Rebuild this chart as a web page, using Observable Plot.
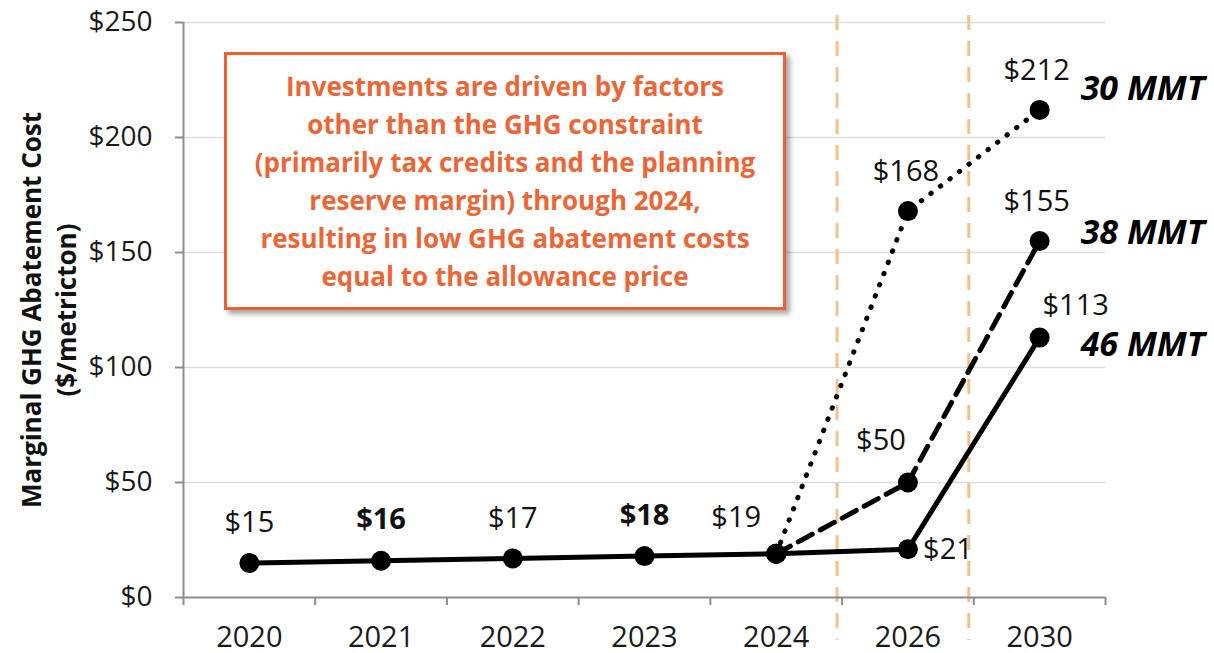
<!DOCTYPE html>
<html><head><meta charset="utf-8">
<script src="https://cdn.jsdelivr.net/npm/d3@7"></script>
<script src="https://cdn.jsdelivr.net/npm/@observablehq/plot@0.6"></script>
<style>
html,body{margin:0;padding:0;background:#fff;}
#wrap{position:relative;width:1214px;height:653px;font-family:"Open Sans",sans-serif;}
#note{position:absolute;left:224px;top:52px;width:562px;height:258px;box-sizing:border-box;border:3px solid #EA6232;background:#fff;box-shadow:4px 4px 5px rgba(0,0,0,0.35);color:#EB6636;font-weight:bold;font-size:26px;line-height:38px;text-align:center;display:flex;align-items:center;justify-content:center;}
</style></head>
<body><div id="wrap"></div>
<script>
// ---- data ----
const years = ["2020","2021","2022","2023","2024","2026","2030"];
const mmt46 = [15,16,17,18,19,21,113];
const mmt38 = [null,null,null,null,19,50,155];
const mmt30 = [null,null,null,null,19,168,212];
const seriesNames = ["30 MMT","38 MMT","46 MMT"];
const yTicks = [0,50,100,150,200,250];
const phaseBreakAfter = ["2024","2026"]; // vertical separators after these categories
const noteLines = [
  "Investments are driven by factors",
  "other than the GHG constraint",
  "(primarily tax credits and the planning",
  "reserve margin) through 2024,",
  "resulting in low GHG abatement costs",
  "equal to the allowance price"
];
const yTitle = ["Marginal GHG Abatement Cost","($/metricton)"];

// ---- build rows ----
const n = years.length;
const rows = [];
[[seriesNames[2], mmt46],[seriesNames[1], mmt38],[seriesNames[0], mmt30]].forEach(([s, vals]) => {
  vals.forEach((v, i) => { if (v != null) rows.push({series: s, i, year: years[i], value: v}); });
});
const boundaries = d3.range(n + 1).map(i => i - 0.5);
const breaks = phaseBreakAfter.map(y => years.indexOf(y) + 0.5);

// label placement (screen offsets) & styling
const place = {
  "46 MMT|2020":[0,-40], "46 MMT|2021":[0,-41], "46 MMT|2022":[0,-40], "46 MMT|2023":[0,-40],
  "46 MMT|2024":[-40,-36], "46 MMT|2026":[40,1], "46 MMT|2030":[36,-32],
  "38 MMT|2026":[-27,-42], "38 MMT|2030":[-3,-39],
  "30 MMT|2026":[-2,-39], "30 MMT|2030":[-3,-39]
};
const boldKeys = new Set(["46 MMT|2021","46 MMT|2023"]);
const seriesDy = {"30 MMT":-21, "38 MMT":-8, "46 MMT":8};

const labelMarks = rows.filter(r => place[r.series + "|" + r.year]).map(r => {
  const k = r.series + "|" + r.year;
  return Plot.text([r], {x: "i", y: "value", text: d => "$" + d.value,
    dx: place[k][0], dy: place[k][1], fontSize: 29,
    fontWeight: boldKeys.has(k) ? "bold" : "normal", fill: "#111"});
});
const lastRows = rows.filter(r => r.year === years[n - 1]);
const seriesLabelMarks = lastRows.map(r => Plot.text([r], {x: "i", y: "value", text: "series",
  dx: 41, dy: seriesDy[r.series], textAnchor: "start", fontSize: 34, fontWeight: "bold",
  fontStyle: "italic", fill: "#000"}));

const gray = "#8c8c8c";
const chart = Plot.plot({
  width: 1214, height: 653,
  marginLeft: 183, marginRight: 109, marginTop: 22, marginBottom: 56,
  style: {fontFamily: "Open Sans", overflow: "visible", background: "transparent"},
  x: {type: "linear", domain: [-0.5, n - 0.5], axis: null},
  y: {domain: [0, 250], axis: null},
  marks: [
    Plot.gridY(yTicks.slice(1), {stroke: "#dcdcdc", strokeOpacity: 1, strokeWidth: 1.5}),
    Plot.ruleX(breaks, {x: d => d, dx: -5, stroke: "#F7BD8C", strokeWidth: 3,
      strokeDasharray: "15,11", insetTop: -7, insetBottom: -43}),
    Plot.ruleY([0], {stroke: gray, strokeWidth: 2}),
    Plot.ruleX([-0.5], {y1: 0, y2: 250, stroke: gray, strokeWidth: 2}),
    Plot.axisY(yTicks, {tickSize: 8, tickPadding: 23, tickFormat: d => "$" + d, fontSize: 28,
      stroke: gray, fill: "#1a1a1a", strokeWidth: 2, label: null}),
    Plot.axisX(boundaries, {tickSize: 8, tickFormat: () => "", stroke: gray, strokeWidth: 2, label: null}),
    Plot.axisX(d3.range(n), {tickSize: 0, tickPadding: 29, tickFormat: i => years[i], fontSize: 29,
      fill: "#1a1a1a", label: null}),
    Plot.line(rows.filter(r => r.series === "30 MMT"), {x: "i", y: "value", stroke: "#000",
      strokeWidth: 5, strokeDasharray: "0.5,11.5", strokeLinecap: "round"}),
    Plot.line(rows.filter(r => r.series === "38 MMT"), {x: "i", y: "value", stroke: "#000",
      strokeWidth: 5, strokeDasharray: "16,9"}),
    Plot.line(rows.filter(r => r.series === "46 MMT"), {x: "i", y: "value", stroke: "#000",
      strokeWidth: 5}),
    Plot.dot(rows, {x: "i", y: "value", r: 10, fill: "#000"}),
    ...labelMarks,
    ...seriesLabelMarks,
    Plot.text([yTitle.join("\n")], {text: d => d, frameAnchor: "left", rotate: -90, dx: -136,
      fontSize: 26, fontWeight: "bold", lineHeight: 1.35, textAnchor: "middle", fill: "#111"})
  ]
});
const wrap = document.getElementById("wrap");
wrap.appendChild(chart);
const note = document.createElement("div");
note.id = "note";
note.innerHTML = "<div>" + noteLines.join("<br>") + "</div>";
wrap.appendChild(note);
</script>
</body></html>
